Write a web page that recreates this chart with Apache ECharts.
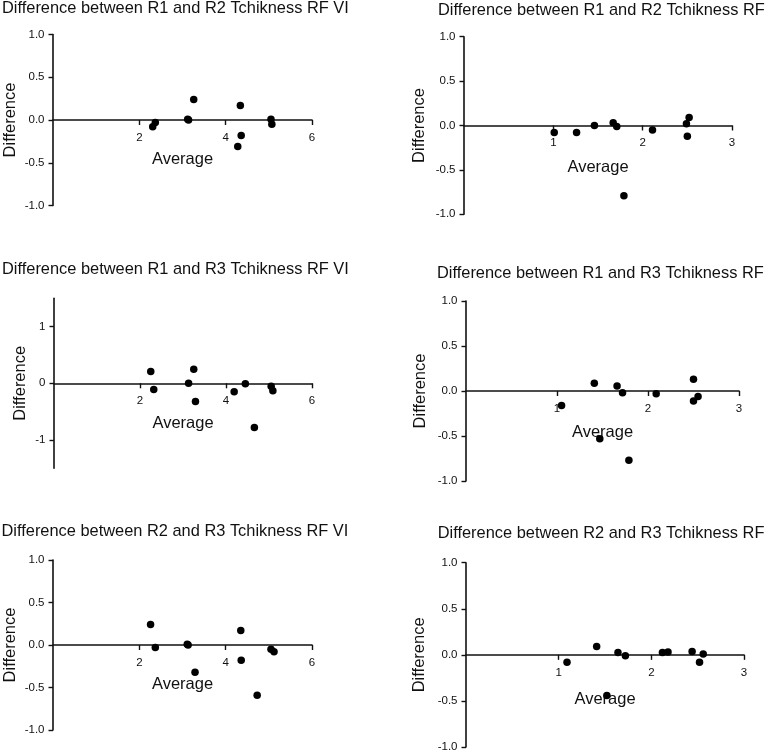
<!DOCTYPE html>
<html>
<head>
<meta charset="utf-8">
<script src="https://cdn.jsdelivr.net/npm/echarts@6/dist/echarts.min.js"></script>
<style>
  html, body { margin: 0; padding: 0; background: #fff; }
  #chart { width: 771px; height: 756px; }
</style>
</head>
<body>
<div id="chart"></div>
<script>
// ---- Data ----
const titles = [
  'Difference between R1 and R2 Tchikness RF VI',
  'Difference between R1 and R2 Tchikness RF',
  'Difference between R1 and R3 Tchikness RF VI',
  'Difference between R1 and R3 Tchikness RF',
  'Difference between R2 and R3 Tchikness RF VI',
  'Difference between R2 and R3 Tchikness RF'
];
const xAxisName = 'Average';
const yAxisName = 'Difference';

const avgR1R2VI  = [2.31, 2.37, 3.12, 3.14, 3.26, 4.28, 4.34, 4.36, 5.05, 5.07];
const diffR1R2VI = [-0.08, -0.03, 0.01, 0.0, 0.24, -0.31, 0.17, -0.18, 0.01, -0.05];

const avgR1R2RF  = [1.01, 1.26, 1.46, 1.67, 1.71, 1.79, 2.11, 2.49, 2.52, 2.50];
const diffR1R2RF = [-0.08, -0.08, 0.0, 0.03, -0.01, -0.79, -0.05, 0.02, 0.09, -0.12];

const avgR1R3VI  = [2.25, 2.32, 3.13, 3.25, 3.29, 4.19, 4.45, 4.66, 5.05, 5.09];
const diffR1R3VI = [0.21, -0.11, 0.0, 0.25, -0.32, -0.15, -0.01, -0.78, -0.05, -0.13];

const avgR1R3RF  = [1.05, 1.41, 1.47, 1.66, 1.72, 1.79, 2.09, 2.50, 2.50, 2.55];
const diffR1R3RF = [-0.16, 0.085, -0.53, 0.056, -0.02, -0.77, -0.03, 0.13, -0.11, -0.06];

const avgR2R3VI  = [2.26, 2.37, 3.11, 3.13, 3.29, 4.35, 4.36, 4.73, 5.05, 5.12];
const diffR2R3VI = [0.24, -0.03, 0.01, 0.0, -0.32, 0.17, -0.18, -0.59, -0.05, -0.08];

const avgR2R3RF  = [1.09, 1.41, 1.52, 1.64, 1.72, 2.12, 2.18, 2.44, 2.52, 2.56];
const diffR2R3RF = [-0.08, 0.09, -0.44, 0.025, -0.01, 0.025, 0.03, 0.036, -0.08, 0.01];

// tick labels
const xTicksVI = [2, 4, 6];
const xTicksRF = [1, 2, 3];
const yTicksHalf = [-1, -0.5, 0, 0.5, 1];
const yTicksUnit = [-1, 0, 1];

// ---- Layout / style (kept apart from data) ----
const FONT = "'Liberation Sans', Arial, sans-serif";
const INK = '#111';

const panels = [
  { avg: avgR1R2VI, diff: diffR1R2VI, xMax: 6, xTicks: xTicksVI, yMin: -1, yMax: 1, yTicks: yTicksHalf, yDec: 1,
    grid: { left: 53, top: 34.5, width: 259, height: 171 }, title: { left: 2, top: 0.5 }, yGap: 34, xGap: 31 },
  { avg: avgR1R2RF, diff: diffR1R2RF, xMax: 3, xTicks: xTicksRF, yMin: -1, yMax: 1, yTicks: yTicksHalf, yDec: 1,
    grid: { left: 464, top: 36.7, width: 268, height: 177.6 }, title: { left: 438, top: 2.8 }, yGap: 36, xGap: 33 },
  { avg: avgR1R3VI, diff: diffR1R3VI, xMax: 6, xTicks: xTicksVI, yMin: -1.5, yMax: 1.5, yTicks: yTicksUnit, yDec: 0,
    grid: { left: 54, top: 298.3, width: 258, height: 170 }, title: { left: 2, top: 261.7 }, yGap: 25, xGap: 32 },
  { avg: avgR1R3RF, diff: diffR1R3RF, xMax: 3, xTicks: xTicksRF, yMin: -1, yMax: 1, yTicks: yTicksHalf, yDec: 1,
    grid: { left: 466, top: 301, width: 273, height: 180 }, title: { left: 437, top: 265 }, yGap: 37.5, xGap: 33 },
  { avg: avgR2R3VI, diff: diffR2R3VI, xMax: 6, xTicks: xTicksVI, yMin: -1, yMax: 1, yTicks: yTicksHalf, yDec: 1,
    grid: { left: 53, top: 560, width: 259, height: 170 }, title: { left: 1.5, top: 523.7 }, yGap: 34.5, xGap: 31 },
  { avg: avgR2R3RF, diff: diffR2R3RF, xMax: 3, xTicks: xTicksRF, yMin: -1, yMax: 1, yTicks: yTicksHalf, yDec: 1,
    grid: { left: 466, top: 562.7, width: 278, height: 184.3 }, title: { left: 437.7, top: 525.3 }, yGap: 38, xGap: 36 }
];

const option = {
  animation: false,
  backgroundColor: '#fff',
  title: [], grid: [], xAxis: [], yAxis: [], series: []
};

panels.forEach((p, i) => {
  // y ranges are symmetric about zero, so the zero line sits at mid-height of the grid
  const zeroOffset = -p.grid.height * (0 - p.yMin) / (p.yMax - p.yMin);
  option.title.push({
    text: titles[i], left: p.title.left, top: p.title.top, padding: 0,
    textStyle: { fontFamily: FONT, fontSize: 16.4, fontWeight: 'normal', color: INK, lineHeight: 16 }
  });
  option.grid.push(Object.assign({ containLabel: false }, p.grid));
  option.xAxis.push({
    type: 'value', gridIndex: i, min: 0, max: p.xMax, position: 'bottom', offset: zeroOffset,
    name: xAxisName, nameLocation: 'middle', nameGap: p.xGap,
    nameTextStyle: { fontFamily: FONT, fontSize: 16.5, color: INK },
    axisLine: { onZero: false, lineStyle: { color: INK, width: 1.6 } },
    axisTick: { show: true, length: 5, lineStyle: { color: INK, width: 1.4 }, customValues: p.xTicks },
    axisLabel: { fontFamily: FONT, fontSize: 11.5, color: INK, margin: 11.5, customValues: p.xTicks },
    splitLine: { show: false }
  });
  option.yAxis.push({
    type: 'value', gridIndex: i, min: p.yMin, max: p.yMax,
    name: yAxisName, nameLocation: 'middle', nameGap: p.yGap,
    nameTextStyle: { fontFamily: FONT, fontSize: 16.5, color: INK },
    axisLine: { show: true, onZero: false, lineStyle: { color: INK, width: 1.6 } },
    axisTick: { show: true, length: 4.5, lineStyle: { color: INK, width: 1.4 }, customValues: p.yTicks },
    axisLabel: { fontFamily: FONT, fontSize: 11.5, color: INK, margin: 8.5, customValues: p.yTicks,
      formatter: v => Number(v).toFixed(p.yDec) },
    splitLine: { show: false }
  });
  option.series.push({
    type: 'scatter', xAxisIndex: i, yAxisIndex: i,
    symbol: 'circle', symbolSize: 7.5,
    itemStyle: { color: '#000', opacity: 1 },
    data: p.avg.map((a, k) => [a, p.diff[k]])
  });
});

const chart = echarts.init(document.getElementById('chart'), null, { renderer: 'canvas' });
chart.setOption(option);
</script>
</body>
</html>
